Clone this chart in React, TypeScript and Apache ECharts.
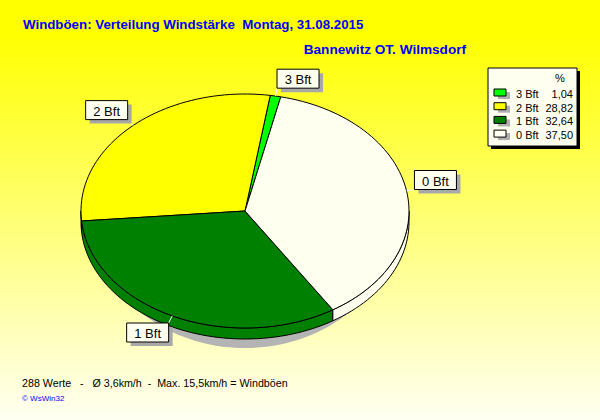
import React, { useEffect, useRef } from "react";
import * as echarts from "echarts";

// Windböen-Verteilung nach Windstärke (Beaufort)
const CATEGORIES = ["3 Bft", "2 Bft", "1 Bft", "0 Bft"];
const PERCENTS = [1.04, 28.82, 32.64, 37.5];
const SLICE_COLORS = ["#00ff00", "#ffff00", "#008000", "#fffff0"];

const TITLE = "Windböen: Verteilung Windstärke  Montag, 31.08.2015";
const SUBTITLE = "Bannewitz OT. Wilmsdorf";
const FOOTER = "288 Werte   -   Ø 3,6km/h  -  Max. 15,5km/h = Windböen";
const COPYRIGHT = "© WsWin32";

const FONT = "'Liberation Sans', Arial, sans-serif";

// geometry of the tilted pie
const CX = 245;
const CY = 211;
const RX = 164;
const RY = 117;
const DEPTH = 11;
const START_DEG = 77.4;
const LEADER = 8;
const LBL_W = 42;
const LBL_H = 19;

const fmt = (v: number) => v.toFixed(2).replace(".", ",");

function arcPoints(a1: number, a2: number, dy = 0): number[][] {
  const n = Math.max(2, Math.ceil(Math.abs(a2 - a1) / 2));
  const pts: number[][] = [];
  for (let i = 0; i <= n; i++) {
    const t = ((a1 + ((a2 - a1) * i) / n) * Math.PI) / 180;
    pts.push([CX + RX * Math.cos(t), CY + dy - RY * Math.sin(t)]);
  }
  return pts;
}

function sliceAngles(values: number[]) {
  const total = values.reduce((s, v) => s + v, 0);
  let acc = START_DEG;
  return values.map((v) => {
    const a1 = acc;
    const a2 = acc + (v / total) * 360;
    acc = a2;
    return [a1, a2];
  });
}

export default function App() {
  const ref = useRef<HTMLDivElement>(null);

  useEffect(() => {
    document.body.style.margin = "0";
    if (!ref.current) return;
    const chart = echarts.init(ref.current, null, { renderer: "svg" });
    const angles = sliceAngles(PERCENTS);
    const data = PERCENTS.map((v, i) => ({ name: CATEGORIES[i], value: [v, i] }));

    const renderSide = (params: any, api: any) => {
      const i = api.value(1);
      const [a1, a2] = angles[i];
      const children: any[] = [];
      for (const k of [0, 360]) {
        const lo = Math.max(a1, 180 + k);
        const hi = Math.min(a2, 360 + k);
        if (hi > lo) {
          const top = arcPoints(lo, hi);
          const bottom = arcPoints(lo, hi, DEPTH).reverse();
          children.push({
            type: "polygon",
            shape: { points: top.concat(bottom) },
            style: { fill: SLICE_COLORS[i], stroke: "#000", lineWidth: 1 },
          });
        }
      }
      return { type: "group", children };
    };

    const renderTop = (params: any, api: any) => {
      const i = api.value(1);
      const [a1, a2] = angles[i];
      const pts = [[CX, CY]].concat(arcPoints(a1, a2));
      const mid = (((a1 + a2) / 2) * Math.PI) / 180;
      const c = Math.cos(mid);
      const s = Math.sin(mid);
      const px = CX + RX * c;
      const py = CY - RY * s;
      const ex = px + LEADER * c;
      const ey = py - LEADER * s;
      const bx = c >= 0 ? ex : ex - LBL_W;
      const by = s >= 0 ? ey - LBL_H : ey;
      return {
        type: "group",
        children: [
          {
            type: "polygon",
            shape: { points: pts },
            style: { fill: SLICE_COLORS[i], stroke: "#000", lineWidth: 1 },
          },
          {
            type: "line",
            shape: { x1: px, y1: py, x2: ex, y2: ey },
            style: { stroke: "#ffffff", lineWidth: 1 },
          },
          {
            type: "rect",
            shape: { x: bx + 4, y: by + 4, width: LBL_W, height: LBL_H },
            style: { fill: "#a8a8a8" },
          },
          {
            type: "rect",
            shape: { x: bx, y: by, width: LBL_W, height: LBL_H },
            style: { fill: "#fffff0", stroke: "#000", lineWidth: 1 },
          },
          {
            type: "text",
            x: bx + LBL_W / 2,
            y: by + LBL_H / 2 + 1,
            style: {
              text: CATEGORIES[i],
              fill: "#000",
              font: `13px ${FONT}`,
              align: "center",
              verticalAlign: "middle",
            },
          },
        ],
      };
    };

    // legend panel
    const LX = 488;
    const LY = 68;
    const LW = 89;
    const LH = 78;
    const legendItems: any[] = [
      { type: "rect", shape: { x: LX + 3, y: LY + 3, width: LW, height: LH }, style: { fill: "#000" } },
      {
        type: "rect",
        shape: { x: LX, y: LY, width: LW, height: LH },
        style: { fill: "#fffff0", stroke: "#000", lineWidth: 1 },
      },
      {
        type: "text",
        x: LX + 72,
        y: LY + 10,
        style: { text: "%", fill: "#000", font: `11px ${FONT}`, align: "center", verticalAlign: "middle" },
      },
    ];
    CATEGORIES.forEach((name, i) => {
      const ry = LY + 26 + i * 13.7;
      legendItems.push(
        { type: "rect", shape: { x: LX + 10, y: ry - 2, width: 12, height: 7 }, style: { fill: "#b0b0b0" } },
        {
          type: "rect",
          shape: { x: LX + 6, y: ry - 5, width: 12, height: 7 },
          style: { fill: SLICE_COLORS[i], stroke: "#000", lineWidth: 1 },
        },
        {
          type: "text",
          x: LX + 28,
          y: ry,
          style: { text: name, fill: "#000", font: `11px ${FONT}`, align: "left", verticalAlign: "middle" },
        },
        {
          type: "text",
          x: LX + 85,
          y: ry,
          style: { text: fmt(PERCENTS[i]), fill: "#000", font: `11px ${FONT}`, align: "right", verticalAlign: "middle" },
        }
      );
    });

    chart.setOption({
      animation: false,
      backgroundColor: {
        type: "linear",
        x: 0,
        y: 0,
        x2: 0,
        y2: 1,
        colorStops: [
          { offset: 0, color: "#ffff00" },
          { offset: 0.08, color: "#ffff00" },
          { offset: 1, color: "#fffff2" },
        ],
      },
      graphic: [
        {
          type: "ellipse",
          z: 0,
          shape: { cx: CX, cy: CY + 10, rx: 150, ry: 127 },
          style: { fill: "#b4b4b4" },
        },
        {
          type: "text",
          left: 23,
          top: 18,
          style: { text: TITLE, fill: "#0000ff", font: `bold 13.3px ${FONT}` },
        },
        {
          type: "text",
          right: 134,
          top: 42,
          style: { text: SUBTITLE, fill: "#0000ff", font: `bold 13.6px ${FONT}` },
        },
        {
          type: "text",
          left: 22,
          top: 377,
          style: { text: FOOTER, fill: "#000", font: `10.7px ${FONT}` },
        },
        {
          type: "text",
          left: 22,
          top: 394,
          style: { text: COPYRIGHT, fill: "#0000ff", font: `8px ${FONT}` },
        },
        { type: "group", z: 10, children: legendItems },
      ],
      series: [
        {
          type: "custom",
          coordinateSystem: "none",
          z: 2,
          silent: true,
          data,
          renderItem: renderSide,
        },
        {
          type: "custom",
          coordinateSystem: "none",
          z: 3,
          silent: true,
          data,
          renderItem: renderTop,
        },
      ],
    });
    return () => chart.dispose();
  }, []);

  return <div ref={ref} style={{ width: 600, height: 420 }} />;
}
